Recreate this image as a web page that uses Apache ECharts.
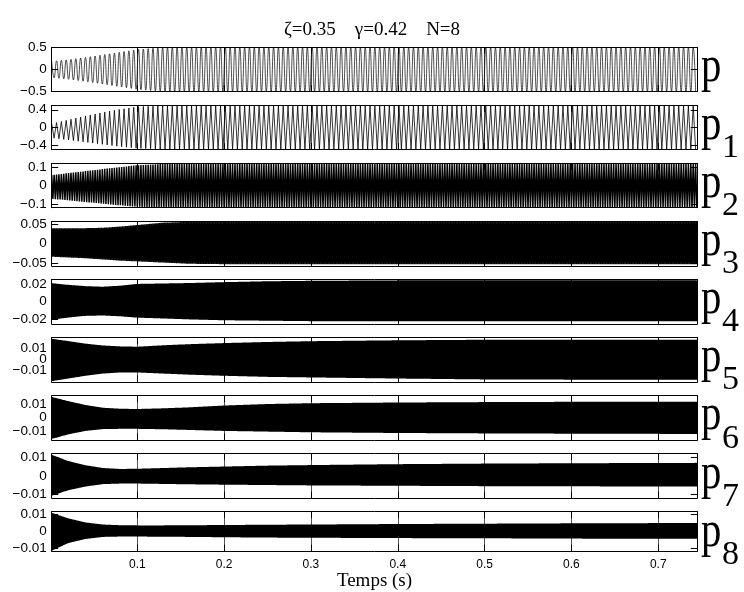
<!DOCTYPE html>
<html><head><meta charset="utf-8">
<script src="https://cdn.jsdelivr.net/npm/echarts@6/dist/echarts.min.js"></script>
<style>html,body{margin:0;padding:0;background:#fff}#c{width:744px;height:592px}</style>
</head><body><div id="c"></div>
<script>
// ---- data ----
const titleText = 'ζ=0.35    γ=0.42    N=8';
const xName = 'Temps (s)';
const xTicks = [0.1, 0.2, 0.3, 0.4, 0.5, 0.6, 0.7];
const tMin = 0.0014, tMax = 0.745;
const subs = ['', '1', '2', '3', '4', '5', '6', '7', '8'];
// envelope sample times (s)
const envT = [0, 0.02, 0.04, 0.06, 0.08, 0.10, 0.13, 0.16, 0.2, 0.25, 0.3, 0.4, 0.5, 0.6, 0.745];
// upper / lower envelopes of each signal
const pUp  = [0.18, 0.22, 0.27, 0.33, 0.39, 0.45, 0.50, 0.50, 0.50, 0.50, 0.50, 0.50, 0.50, 0.50, 0.50];
const pLo  = [-0.18, -0.22, -0.27, -0.33, -0.39, -0.45, -0.50, -0.50, -0.50, -0.50, -0.50, -0.50, -0.50, -0.50, -0.50];
const p1Up = [0.08, 0.17, 0.26, 0.34, 0.41, 0.47, 0.49, 0.49, 0.49, 0.49, 0.49, 0.49, 0.49, 0.49, 0.49];
const p1Lo = [-0.23, -0.28, -0.33, -0.38, -0.43, -0.47, -0.49, -0.49, -0.49, -0.49, -0.49, -0.49, -0.49, -0.49, -0.49];
const p2Up = [0.056, 0.067, 0.078, 0.089, 0.100, 0.110, 0.117, 0.118, 0.118, 0.118, 0.118, 0.118, 0.118, 0.118, 0.118];
const p2Lo = [-0.071, -0.080, -0.089, -0.098, -0.107, -0.115, -0.118, -0.119, -0.119, -0.119, -0.119, -0.119, -0.119, -0.119, -0.119];
const p3Up = [0.039, 0.039, 0.039, 0.040, 0.043, 0.047, 0.053, 0.055, 0.055, 0.055, 0.055, 0.055, 0.055, 0.055, 0.055];
const p3Lo = [-0.033, -0.035, -0.037, -0.040, -0.043, -0.045, -0.048, -0.051, -0.052, -0.052, -0.052, -0.052, -0.052, -0.052, -0.052];
const p4Up = [0.021, 0.019, 0.0175, 0.0168, 0.018, 0.020, 0.0205, 0.021, 0.022, 0.023, 0.0235, 0.024, 0.024, 0.024, 0.024];
const p4Lo = [-0.0205, -0.018, -0.016, -0.0156, -0.0165, -0.018, -0.019, -0.020, -0.021, -0.0215, -0.022, -0.022, -0.022, -0.022, -0.022];
const p5Up = [0.019, 0.0168, 0.0145, 0.0128, 0.012, 0.0117, 0.013, 0.014, 0.015, 0.016, 0.0167, 0.0175, 0.018, 0.018, 0.018];
const p5Lo = [-0.0195, -0.017, -0.0145, -0.0125, -0.0115, -0.0115, -0.0125, -0.0135, -0.0145, -0.0155, -0.016, -0.017, -0.0178, -0.018, -0.018];
const p6Up = [0.0152, 0.012, 0.0092, 0.0072, 0.0065, 0.0063, 0.0068, 0.0075, 0.0088, 0.0099, 0.0105, 0.011, 0.0113, 0.0115, 0.0116];
const p6Lo = [-0.0155, -0.012, -0.0095, -0.0082, -0.008, -0.008, -0.0083, -0.0088, -0.0095, -0.010, -0.0105, -0.011, -0.0113, -0.0115, -0.0117];
const p7Up = [0.0115, 0.008, 0.0057, 0.0042, 0.0037, 0.0038, 0.0042, 0.0046, 0.005, 0.0055, 0.0058, 0.0063, 0.0066, 0.0068, 0.007];
const p7Lo = [-0.011, -0.0078, -0.0058, -0.0045, -0.0042, -0.0042, -0.0044, -0.0046, -0.0048, -0.005, -0.0052, -0.0054, -0.0056, -0.0057, -0.0058];
const p8Up = [0.011, 0.0076, 0.0052, 0.004, 0.0036, 0.0035, 0.0035, 0.0036, 0.0037, 0.0039, 0.004, 0.0043, 0.0045, 0.0047, 0.0049];
const p8Lo = [-0.0115, -0.0068, -0.0044, -0.0032, -0.003, -0.003, -0.0031, -0.0032, -0.0034, -0.0036, -0.0037, -0.0039, -0.004, -0.0042, -0.0043];
// oscillation frequency of each signal (Hz), read from the cycle spacing
const freqs = [180, 180, 360, 540, 720, 900, 1080, 1260, 1440];
// y ranges and tick labels
const yMax = [0.5, 0.5, 0.12, 0.056, 0.025, 0.02, 0.016, 0.012, 0.0115];
const yTicks = [[-0.5, 0, 0.5], [-0.4, 0, 0.4], [-0.1, 0, 0.1], [-0.05, 0, 0.05], [-0.02, 0, 0.02],
                [-0.01, 0, 0.01], [-0.01, 0, 0.01], [-0.01, 0, 0.01], [-0.01, 0, 0.01]];

const ups = [pUp, p1Up, p2Up, p3Up, p4Up, p5Up, p6Up, p7Up, p8Up];
const los = [pLo, p1Lo, p2Lo, p3Lo, p4Lo, p5Lo, p6Lo, p7Lo, p8Lo];

// ---- build ----
function envAt(arr, t) {
  for (let i = 0; i < envT.length - 1; i++) {
    if (t <= envT[i + 1]) {
      const f = (t - envT[i]) / (envT[i + 1] - envT[i]);
      return arr[i] + f * (arr[i + 1] - arr[i]);
    }
  }
  return arr[arr.length - 1];
}
function buildSignal(idx) {
  const half = 1 / (2 * freqs[idx]);
  const out = [];
  for (let k = 0; ; k++) {
    const t = tMin + k * half;
    if (t > tMax) break;
    out.push([t, k % 2 === 0 ? envAt(ups[idx], t) : envAt(los[idx], t)]);
  }
  return out;
}

const L = 51.7, W = 645.6, TOP0 = 47.3, STEP = 58.05, H = 44.3;
const widths = [0.7, 0.8, 1.5, 1.5, 1.5, 1.5, 1.5, 1.5, 1.5];
const fmt = v => (v < 0 ? '\u2212' + String(-v) : String(v));
const labelStyle = { show: true, formatter: fmt, margin: 5, color: '#000', fontSize: 13.5,
  fontFamily: 'Liberation Sans', hideOverlap: false };
const grids = [], xAxes = [], yAxes = [], series = [], graphics = [];
const N = 9;
for (let i = 0; i < N; i++) {
  const top = TOP0 + STEP * i;
  grids.push({ left: L, top: top, width: W, height: H });
  const last = i === N - 1;
  const axLine = { show: true, onZero: false, lineStyle: { color: '#000', width: 1 } };
  const tick = { show: true, inside: true, length: 6.5, lineStyle: { color: '#000', width: 1 }, customValues: xTicks };
  xAxes.push({
    type: 'value', gridIndex: i, min: tMin, max: tMax, position: 'bottom',
    axisLine: axLine, axisTick: tick,
    splitLine: { show: false },
    axisLabel: { show: last, customValues: xTicks, margin: 8, color: '#000', fontSize: 12, fontFamily: 'Liberation Sans', hideOverlap: false },
    name: last ? xName : '', nameLocation: 'middle', nameGap: 18,
    nameTextStyle: { color: '#000', fontSize: 19, fontFamily: 'Liberation Serif' }
  });
  xAxes.push({
    type: 'value', gridIndex: i, min: tMin, max: tMax, position: 'top',
    axisLine: axLine, axisTick: tick,
    splitLine: { show: true, customValues: xTicks, lineStyle: { color: '#555', width: 1, type: 'solid' } },
    axisLabel: { show: false, customValues: xTicks }
  });
  const yt = { show: true, inside: true, length: 6.5, lineStyle: { color: '#000', width: 1 }, customValues: yTicks[i] };
  const outer = yTicks[i].filter(v => v !== 0);
  // left axis: line, ticks and the outer tick labels
  yAxes.push({
    type: 'value', gridIndex: i, min: -yMax[i], max: yMax[i], position: 'left',
    axisLine: axLine, axisTick: yt, splitLine: { show: false },
    axisLabel: Object.assign({}, labelStyle, { customValues: outer })
  });
  // right axis: line and ticks
  yAxes.push({
    type: 'value', gridIndex: i, min: -yMax[i], max: yMax[i], position: 'right',
    axisLine: axLine, axisTick: yt, splitLine: { show: false }, axisLabel: { show: false }
  });
  // second left axis carrying only the zero label (so close labels are not dropped)
  yAxes.push({
    type: 'value', gridIndex: i, min: -yMax[i], max: yMax[i], position: 'left', offset: 0,
    axisLine: { show: false }, axisTick: { show: false }, splitLine: { show: false },
    axisLabel: Object.assign({}, labelStyle, { customValues: [0] })
  });
  series.push({
    type: 'line', name: 'p' + subs[i], xAxisIndex: 2 * i, yAxisIndex: 3 * i, z: 2,
    data: buildSignal(i), showSymbol: false, symbol: 'none', smooth: i === 0 ? 0.5 : false,
    lineStyle: { color: '#000', width: widths[i] }, animation: false, silent: true
  });
  graphics.push({ type: 'text', left: 701, top: top - 5, scaleX: 0.8, origin: [0, 0],
    style: { text: 'p', font: '51px "Liberation Serif"', fill: '#000' } });
  if (subs[i]) {
    graphics.push({ type: 'text', left: 722, top: top + 26, origin: [0, 0],
      style: { text: subs[i], font: '34px "Liberation Serif"', fill: '#000' } });
  }
}

const chart = echarts.init(document.getElementById('c'), null, { renderer: 'canvas' });
chart.setOption({
  backgroundColor: '#fff',
  animation: false,
  title: { text: titleText, left: 'center', top: 16,
    textStyle: { color: '#000', fontSize: 19, fontWeight: 'normal', fontFamily: 'Liberation Serif' } },
  grid: grids, xAxis: xAxes, yAxis: yAxes, series: series, graphic: graphics
});
</script></body></html>
